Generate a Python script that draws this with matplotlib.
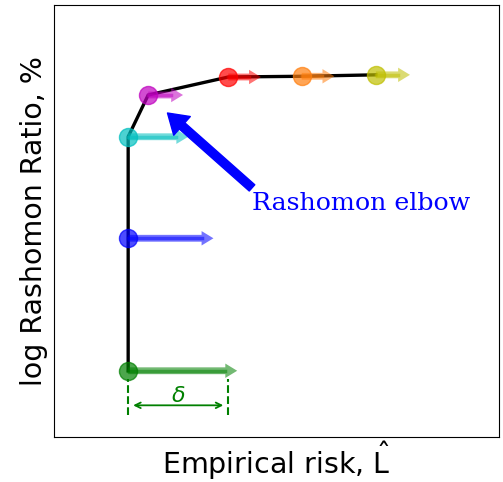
import matplotlib.pyplot as plt
import numpy as np

# points along the Rashomon curve (risk, log ratio)
risk = [1.0, 1.0, 1.0, 1.27, 2.35, 3.34, 4.34]
log_ratio = [0.92, 2.76, 4.17, 4.75, 5.0, 5.01, 5.03]
colors = ['g', 'b', 'c', 'm', 'r', 'tab:orange', 'y']
shift = [1.47, 1.15, 0.81, 0.47, 0.44, 0.44, 0.46]

delta_lo = 1.0
delta_hi = 2.35

fig = plt.figure(figsize=(5.03, 4.82), dpi=100)
ax = fig.add_axes([54/503, 45/482, 445/503, 432/482])

ax.plot(risk, log_ratio, color='black', lw=2.4, zorder=1)

hl = 0.16
for x, y, c, d in zip(risk, log_ratio, colors, shift):
    ax.arrow(x, y, d, 0, width=0.095, head_width=0.2, head_length=hl,
             length_includes_head=True, color=c, alpha=0.55, lw=0, zorder=2)
    ax.plot([x, x + d - hl], [y, y], color=c, lw=2.5, alpha=0.5, zorder=2)
    ax.plot(x, y, 'o', color=c, markersize=13, alpha=0.7, mec=c, zorder=3)

# delta bracket
ax.plot([delta_lo, delta_lo], [0.3, 0.8], ls='--', color='g', lw=1.5)
ax.plot([delta_hi, delta_hi], [0.3, 0.8], ls='--', color='g', lw=1.5)
ax.annotate('', xy=(delta_lo + 0.03, 0.44), xytext=(delta_hi - 0.03, 0.44),
            arrowprops=dict(arrowstyle='<->', color='g', lw=1.3))
ax.text((delta_lo + delta_hi) / 2, 0.43, r'$\delta$', color='g', fontsize=16,
        ha='center', va='bottom')

# elbow annotation
ax.annotate('', xy=(1.53, 4.5), xytext=(2.67, 3.46),
            arrowprops=dict(facecolor='blue', edgecolor='blue', width=6,
                            headwidth=18, headlength=14, shrink=0))
ax.text(2.67, 3.25, 'Rashomon elbow', color='blue', fontsize=18.2,
        family='DejaVu Serif', ha='left', va='center')

ax.set_xlim(0, 6)
ax.set_ylim(0, 6)
ax.set_xticks([])
ax.set_yticks([])
ax.set_xlabel(r'Empirical risk, $\hat{\rm L}$', fontsize=20.5, labelpad=2)
ax.set_ylabel('log Rashomon Ratio, %', fontsize=20.5)

fig.savefig('out.png', dpi=100)
